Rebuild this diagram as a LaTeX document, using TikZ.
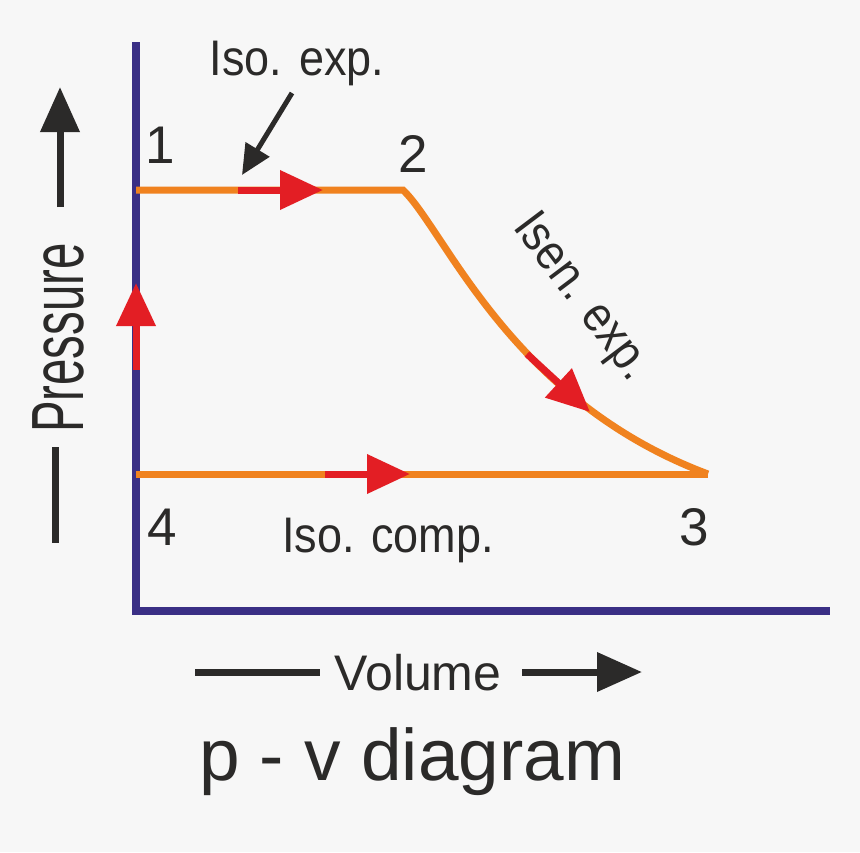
\documentclass[tikz,border=0pt]{standalone}
\usepackage{fontspec}
\setmainfont{Liberation Sans}
\usetikzlibrary{arrows.meta}
\definecolor{bg}{HTML}{F7F7F7}
\definecolor{axisblue}{HTML}{3A2F85}
\definecolor{orng}{HTML}{F0821F}
\definecolor{rd}{HTML}{E31E24}
\definecolor{ink}{HTML}{2B2A29}
\begin{document}
\begin{tikzpicture}[x=1pt,y=-1pt,
  lbl/.style={text=ink, inner sep=0pt, font=\fontsize{50}{50}\selectfont},
  num/.style={text=ink, inner sep=0pt, font=\fontsize{53}{53}\selectfont},
  axisln/.style={draw=axisblue, line width=8pt, line join=miter},
  proc/.style={draw=orng, line width=7pt, line join=miter},
  redarr/.style={draw=rd, line width=7pt, -{Triangle[length=43pt,width=38pt]}},
  blkarr/.style={draw=ink, line width=7pt, -{Triangle[length=45pt,width=38pt]}},
  blkln/.style={draw=ink, line width=7pt}
]
\fill[bg] (0,0) rectangle (860,852);
\useasboundingbox (0,0) rectangle (860,852);

% key points
\coordinate (ytop) at (136,42);
\coordinate (orig) at (136,611);
\coordinate (xend) at (830,611);
\coordinate (p1) at (136,190);
\coordinate (p2) at (403,190);
\coordinate (p3) at (708,474);
\coordinate (p4) at (136,474);

% axes
\draw[axisln] (ytop) -- (orig) -- (xend);

% process lines
\draw[proc] (p1) -- (p2) .. controls (445,230) and (510,400) .. (p3);
\draw[proc] (p4) -- (p3);

% red direction arrows
\coordinate (r1s) at (238,190); \coordinate (r1e) at (323,190);
\coordinate (r2s) at (527,354); \coordinate (r2e) at (590,412);
\coordinate (r3s) at (325,474); \coordinate (r3e) at (410,474);
\coordinate (r4s) at (136,370); \coordinate (r4e) at (136,283);
\draw[redarr] (r1s) -- (r1e);
\draw[redarr] (r2s) -- (r2e);
\draw[redarr] (r3s) -- (r3e);
\draw[redarr] (r4s) -- (r4e);

% labels
\node[lbl, anchor=base] (isoexp) at (297,75) {\scalebox{0.9}[1]{Iso. exp.}};
\node[lbl, anchor=base] (isocomp) at (388,552) {\scalebox{0.9}[1]{Iso. comp.}};
\node[lbl, anchor=base, rotate=-53] (isen) at (571,305) {\scalebox{0.88}[1]{Isen. exp.}};
\coordinate (isoexpTip) at (242,175);
\coordinate (isoexpTail) at (292,93);
\draw[draw=ink, line width=5pt, -{Triangle[length=30pt,width=27pt]}] (isoexpTail) -- (isoexpTip);

\node[num, anchor=base] (n1) at (160,163) {1};
\node[num, anchor=base] (n2) at (413,172) {2};
\node[num, anchor=base] (n3) at (694,545) {3};
\node[num, anchor=base] (n4) at (162,545) {4};

% Pressure
\node[text=ink, inner sep=0pt, font=\fontsize{74}{74}\selectfont, anchor=base, rotate=90] (pres) at (83,338) {\scalebox{0.64}[1]{Pressure}};
\coordinate (pa1) at (60,207); \coordinate (pa2) at (60,87);
\draw[blkarr] (pa1) -- (pa2);
\coordinate (pd1) at (55,447); \coordinate (pd2) at (55,543);
\draw[blkln] (pd1) -- (pd2);

% Volume
\node[text=ink, inner sep=0pt, font=\fontsize{50}{50}\selectfont, anchor=base] (vol) at (418,690) {Volume};
\coordinate (vd1) at (195,672); \coordinate (vd2) at (320,672);
\draw[blkln] (vd1) -- (vd2);
\coordinate (va1) at (522,672); \coordinate (va2) at (642,672);
\draw[blkarr] (va1) -- (va2);

% title
\node[text=ink, inner sep=0pt, font=\fontsize{73}{73}\selectfont, anchor=base] (title) at (412,780) {p - v diagram};
\end{tikzpicture}
\end{document}
